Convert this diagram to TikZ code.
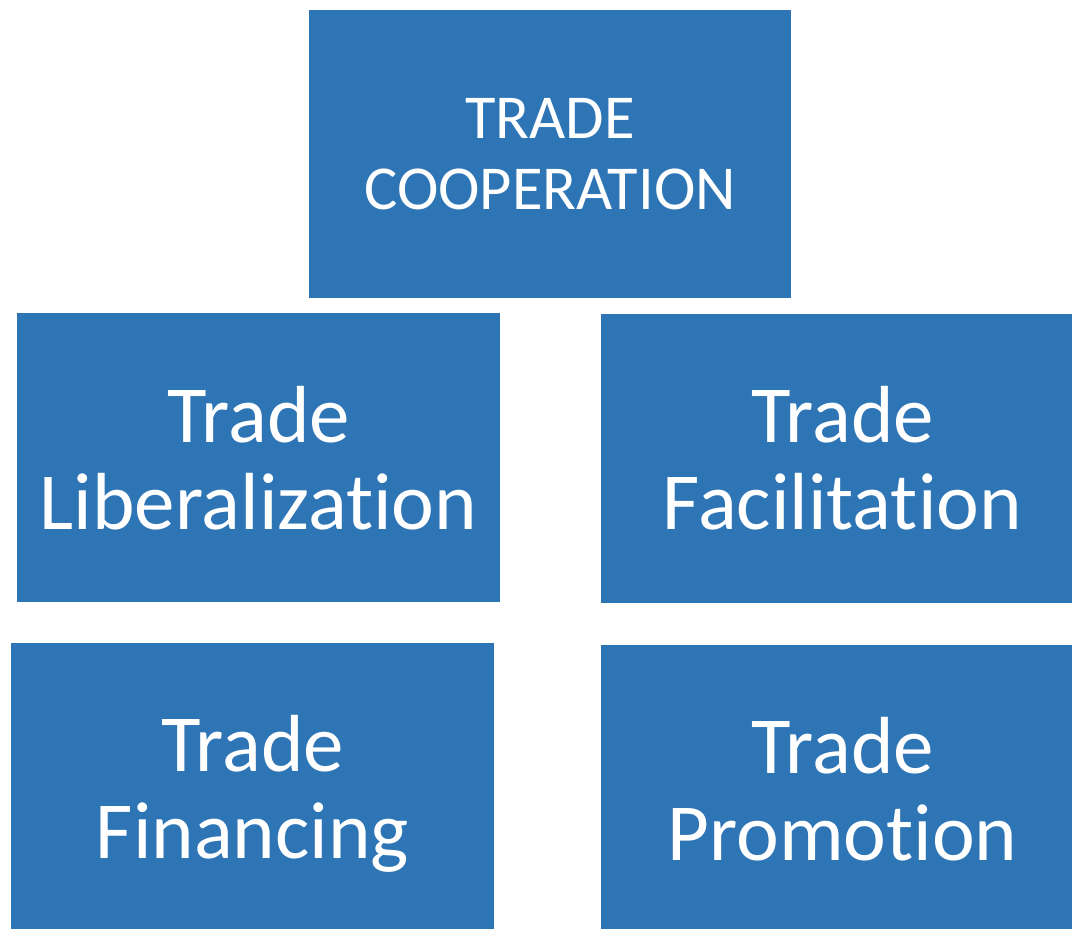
\documentclass[tikz,border=0pt]{standalone}
\usepackage{fontspec}
\setmainfont{Carlito}[Ligatures=NoCommon, Contextuals=NoAlternate]
\definecolor{boxblue}{RGB}{46,117,182}

\begin{document}
\begin{tikzpicture}[
                x=1pt, y=-1pt,                % 按像素定位
                every node/.style={
                    rectangle,
                    fill=boxblue,
                    text=white,
                    align=center,
                    inner sep=0pt,
                    text depth=0pt
                },
                topbox/.style={minimum width=482pt, minimum height=288pt, font=\fontsize{62.5}{71}\selectfont},
                bigbox/.style={minimum width=483pt, minimum height=289pt, font=\fontsize{81}{87}\selectfont}
            ]
                \useasboundingbox (0,0) rectangle (1072,929);
                \clip (0,0) rectangle (1072,929);

                % 顶部
                \node[topbox] (coop) at (550,154) {TRADE\\COOPERATION};

                % 中间一行 (t 与 i 分开, 不用连字)
                \node[bigbox] (lib) at (258.5,457.5) {Trade\\Liberalizat\kern0pt ion};
                \node[bigbox] (fac) at (842.5,458) {Trade\\Facilitat\kern0pt ion};

                % 底部一行
                \node[bigbox] (fin) at (252.5,787) {Trade\\Financing};
                \node[bigbox] (pro) at (842.5,789) {Trade\\Promot\kern0pt ion};
            \end{tikzpicture}
\end{document}
